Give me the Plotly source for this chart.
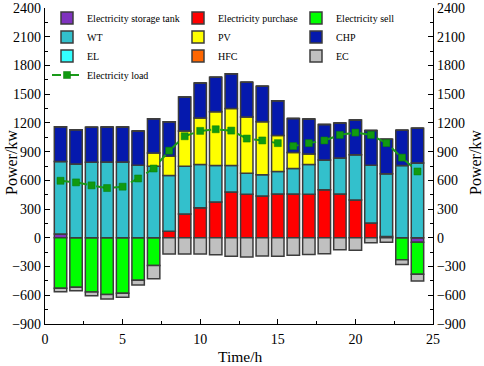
import plotly.graph_objects as go

hours = list(range(1, 25))

storage = [40, 0, 0, 0, 0, 0, 0, 0, 0, 0, 0, 0, 0, 0, 0, 0, 0, 0, 0, 0, 0, 0, 0, -45]
purchase = [0, 0, 0, 0, 0, 0, 0, 68, 248, 313, 375, 479, 455, 437, 458, 458, 455, 503, 458, 396, 155, 15, 0, 0]
sell = [-527, -517, -566, -593, -579, -442, -290, 0, 0, 0, 0, 0, 0, 0, 0, 0, 0, 0, 0, 0, 0, 0, -228, -335]
wt = [756, 771, 789, 792, 792, 758, 748, 583, 500, 452, 380, 276, 220, 221, 235, 266, 310, 310, 376, 473, 603, 653, 755, 782]
pv = [0, 0, 0, 0, 0, 0, 137, 200, 369, 486, 561, 596, 586, 555, 375, 168, 110, 0, 0, 0, 0, 0, 0, 0]
chp = [365, 359, 365, 366, 366, 359, 359, 362, 354, 365, 362, 362, 363, 369, 365, 355, 365, 372, 365, 361, 362, 362, 368, 362]
el = [0] * 24
hfc = [0] * 24
ec = [-35, -35, -38, -45, -41, -51, -138, -170, -170, -170, -176, -193, -200, -190, -193, -183, -173, -166, -124, -131, -52, -45, -51, -72]
load = [596, 579, 548, 520, 534, 620, 724, 910, 1061, 1117, 1134, 1120, 1037, 1017, 989, 958, 989, 1017, 1075, 1099, 1075, 989, 838, 693]

# (name, values, colour, legend column)
series = [
    ("Electricity storage tank", storage, "#7F33BF", "legend"),
    ("Electricity purchase", purchase, "#FF0000", "legend2"),
    ("Electricity sell", sell, "#00FF00", "legend3"),
    ("WT", wt, "#33C0CC", "legend"),
    ("PV", pv, "#FFFF00", "legend2"),
    ("CHP", chp, "#0519AD", "legend3"),
    ("EL", el, "#33FFFF", "legend"),
    ("HFC", hfc, "#FF6600", "legend2"),
    ("EC", ec, "#C0C0C0", "legend3"),
]

FONT = "Liberation Serif"
W, H = 484, 366
ML, MR, MT, MB = 45, 51, 8, 42
PW = W - ML - MR
PH = H - MT - MB

fig = go.Figure()
for name, vals, col, lg in series:
    fig.add_trace(go.Bar(
        x=hours, y=vals, name=name, width=0.8, legend=lg,
        marker=dict(color=col, line=dict(color="#3C3C3C", width=1.5)),
    ))

fig.add_trace(go.Scatter(
    x=hours, y=load, name="Electricity load", mode="lines+markers", legend="legend",
    line=dict(color="#1A9A1A", width=2, dash="dash"),
    marker=dict(symbol="square", size=7, color="#109A10", line=dict(color="#0B7A0B", width=0.5)),
))

# invisible companion trace so the right-hand axis is drawn
fig.add_trace(go.Scatter(
    x=hours, y=load, yaxis="y2", mode="lines", line=dict(width=0, color="rgba(0,0,0,0)"),
    showlegend=False, hoverinfo="skip",
))

yticks = [-900, -600, -300, 0, 300, 600, 900, 1200, 1500, 1800, 2100, 2400]
xticks = [0, 5, 10, 15, 20, 25]
yrange = [-900, 2400.5]

axis_common = dict(
    showline=True, linecolor="black", linewidth=1.2,
    ticks="inside", ticklen=5, tickcolor="black", tickwidth=1.2,
    showgrid=False, zeroline=False, automargin=False,
    tickfont=dict(family=FONT, size=14, color="black"),
)
minor_y = dict(dtick=150, tick0=0, ticks="inside", ticklen=3, tickcolor="black")


def legend_at(px):
    return dict(
        orientation="v", x=(px - ML) / PW, y=1 + 4.5 / PH, xanchor="left", yanchor="top",
        font=dict(family=FONT, size=10, color="black"),
        bgcolor="rgba(0,0,0,0)", traceorder="normal",
    )


fig.update_layout(
    width=W, height=H,
    margin=dict(l=ML, r=MR, t=MT, b=MB, autoexpand=False),
    paper_bgcolor="white", plot_bgcolor="white",
    barmode="relative",
    font=dict(family=FONT, color="black"),
    xaxis=dict(
        range=[0, 25], tickvals=xticks, ticklabelstandoff=2,
        minor=dict(dtick=2.5, tick0=0, ticks="inside", ticklen=3, tickcolor="black"),
        **axis_common,
    ),
    yaxis=dict(range=yrange, tickvals=yticks, minor=minor_y,
               ticklabeloverflow="allow", **axis_common),
    yaxis2=dict(range=yrange, tickvals=yticks, overlaying="y", side="right",
                minor=minor_y, ticklabeloverflow="allow", **axis_common),
    legend=legend_at(47),
    legend2=legend_at(178),
    legend3=legend_at(296),
    annotations=[
        dict(text="Power/kw", xref="paper", yref="paper",
             x=(12 - ML) / PW, y=(H - MB - 163) / PH, xanchor="center", yanchor="middle",
             textangle=-90, showarrow=False, font=dict(family=FONT, size=16)),
        dict(text="Power/kw", xref="paper", yref="paper",
             x=(476 - ML) / PW, y=(H - MB - 163) / PH, xanchor="center", yanchor="middle",
             textangle=-90, showarrow=False, font=dict(family=FONT, size=16)),
        dict(text="Time/h", xref="paper", yref="paper",
             x=(240 - ML) / PW, y=(H - MB - 356) / PH, xanchor="center", yanchor="middle",
             showarrow=False, font=dict(family=FONT, size=15.5)),
    ],
)

fig.write_html("out.html", config={"displayModeBar": False},
               post_script="document.body.style.margin='0px';")
